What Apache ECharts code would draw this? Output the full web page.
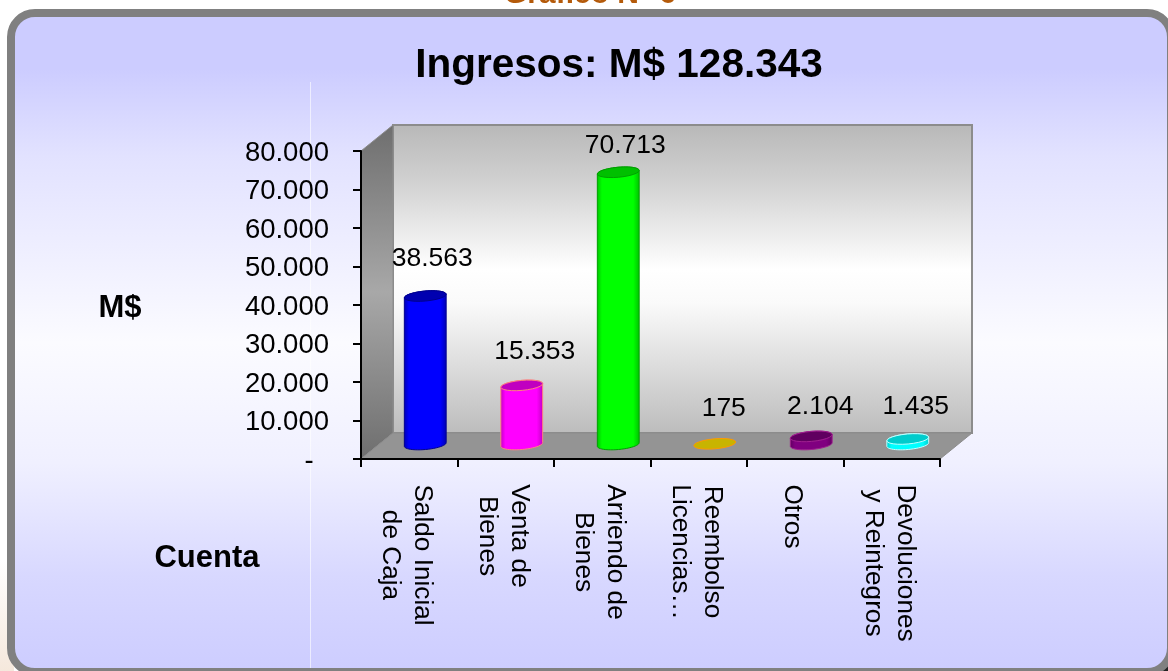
<!DOCTYPE html>
<html>
<head>
<meta charset="utf-8">
<style>html,body{margin:0;padding:0;background:#fff;overflow:hidden}#c{width:1168px;height:671px}</style>
<script src="https://cdn.jsdelivr.net/npm/echarts@6/dist/echarts.min.js"></script>
</head>
<body>
<div id="c"></div>
<script>
const categories = ['Saldo Inicial\nde Caja', 'Venta de\nBienes', 'Arriendo de\nBienes', 'Reembolso\nLicencias…', 'Otros', 'Devoluciones\ny Reintegros'];
const values = [38563, 15353, 70713, 175, 2104, 1435];
const yTicks = { min: 0, max: 80000, interval: 10000 };
const sideColors = ['#0000ff', '#ff00ff', '#00ff00', '#ffb000', '#800080', '#00ffff'];
const edgeColors = ['#000090', '#ff8080', '#00a000', '#ff9900', '#a02090', '#c0ffff'];
const capColors = ['#0000b0', '#c000c0', '#00c000', '#c8b400', '#600060', '#00cccc'];
const labelShiftX = [7, 13, 7, 9, 9, 8];
const labelShiftY = [-37, -34, -27, -35, -30, -32];

const FONT = '"Liberation Sans", Arial, sans-serif';
const DX = 32, DY = 26, BAR_DX = 16, BAR_DY = 14.5, RX = 21, RY = 5, TILT = -0.09;
const LG = echarts.graphic.LinearGradient;

const fmt = v => String(v).replace(/\B(?=(\d{3})+$)/g, '.');

// Rotated category labels: the block starts at the axis side, lines are centred in it.
const measure = document.createElement('canvas').getContext('2d');
measure.font = '26.2px ' + FONT;
const rich = {};
categories.forEach((c, i) => {
  rich['c' + i] = {
    width: Math.ceil(Math.max(...c.split('\n').map(l => measure.measureText(l).width))),
    align: 'center', fontSize: 26.2, lineHeight: 32, fontFamily: FONT, color: '#000'
  };
});

function ell(cx, cy, t0, t1) {
  const pts = [];
  for (let k = 0; k <= 24; k++) {
    const t = t0 + (t1 - t0) * k / 24;
    pts.push([
      cx + RX * Math.cos(t) * Math.cos(TILT) - RY * Math.sin(t) * Math.sin(TILT),
      cy + RX * Math.cos(t) * Math.sin(TILT) + RY * Math.sin(t) * Math.cos(TILT)
    ]);
  }
  return pts;
}

function renderRoom(params, api) {
  const g = params.coordSys;
  const x0 = g.x, y0 = g.y, x1 = g.x + g.width, y1 = g.y + g.height;
  return {
    type: 'group',
    children: [
      { type: 'polygon', shape: { points: [[x0 + DX, y0 - DY], [x1 + DX, y0 - DY], [x1 + DX, y1 - DY], [x0 + DX, y1 - DY]] },
        style: { fill: new LG(0, 0, 0, 1, [{ offset: 0, color: '#b8b8b8' }, { offset: 0.18, color: '#d0d0d0' }, { offset: 0.47, color: '#ffffff' }, { offset: 0.58, color: '#fafafa' }, { offset: 1, color: '#bcbcbc' }]), stroke: '#8c8c8c', lineWidth: 2 } },
      { type: 'polygon', shape: { points: [[x0, y0], [x0 + DX, y0 - DY], [x0 + DX, y1 - DY], [x0, y1]] },
        style: { fill: new LG(0, 0, 0, 1, [{ offset: 0, color: '#6e6e6e' }, { offset: 0.5, color: '#a8a8a8' }, { offset: 1, color: '#6e6e6e' }]), stroke: '#8c8c8c', lineWidth: 1 } },
      { type: 'polygon', shape: { points: [[x0, y1], [x0 + DX, y1 - DY], [x1 + DX, y1 - DY], [x1, y1]] },
        style: { fill: '#949494', stroke: '#8c8c8c', lineWidth: 1 } }
    ]
  };
}

function renderCylinder(params, api) {
  const i = params.dataIndex;
  const v = api.value(1);
  const top = api.coord([api.value(0), v]);
  const base = api.coord([api.value(0), 0]);
  const cx = base[0] + BAR_DX, by = base[1] - BAR_DY, ty = top[1] - BAR_DY;
  const side = sideColors[i], edge = edgeColors[i], cap = capColors[i];
  const children = [];
  if (by - ty > 1) {
    children.push({
      type: 'polygon',
      shape: { points: ell(cx, by, 0, Math.PI).concat(ell(cx, ty, Math.PI, 2 * Math.PI)) },
      style: {
        fill: new LG(0, 0, 1, 0, [{ offset: 0, color: cap }, { offset: 0.12, color: side }, { offset: 0.85, color: side }, { offset: 1, color: cap }]),
        stroke: edge, lineWidth: 1
      }
    });
  }
  children.push({
    type: 'polygon',
    shape: { points: ell(cx, ty, 0, 2 * Math.PI) },
    style: { fill: cap, stroke: edge, lineWidth: 1 }
  });
  children.push({
    type: 'text',
    style: {
      x: cx + labelShiftX[i], y: ty + labelShiftY[i],
      text: fmt(v), fill: '#000', font: '26.5px ' + FONT, align: 'center', verticalAlign: 'middle'
    }
  });
  return { type: 'group', children };
}

const chart = echarts.init(document.getElementById('c'), null, { renderer: 'canvas' });
chart.setOption({
  animation: false,
  backgroundColor: '#ffffff',
  graphic: [
    { type: 'rect', z: -20, shape: { x: 0, y: 560, width: 14, height: 111 },
      style: { fill: new LG(0, 0, 0, 1, [{ offset: 0, color: '#ffffff' }, { offset: 1, color: '#f5e8dc' }]) } },
    { type: 'rect', z: -19, shape: { x: 1160, y: 664, width: 8, height: 7 }, style: { fill: '#222' } },
    { type: 'rect', z: -18, shape: { x: 11, y: 13, width: 1160, height: 659, r: 24 },
      style: {
        fill: new LG(0, 0, 0, 1, [{ offset: 0, color: '#ccccff' }, { offset: 0.09, color: '#ccccff' }, { offset: 0.22, color: '#e2e2ff' }, { offset: 0.5, color: '#fbfbff' }, { offset: 0.68, color: '#f0f0ff' }, { offset: 0.85, color: '#d8d8ff' }, { offset: 1, color: '#ccccff' }]),
        stroke: '#808080', lineWidth: 8
      } },
    { type: 'line', z: -17, shape: { x1: 310.5, y1: 82, x2: 310.5, y2: 668 }, style: { stroke: 'rgba(255,255,255,0.6)', lineWidth: 1 } }
  ],
  title: [
    { text: 'Ingresos: M$ 128.343', left: 619, top: 45, padding: 0, textAlign: 'center', textStyle: { fontFamily: FONT, fontSize: 40.5, fontWeight: 'bold', color: '#000' } },
    { text: 'Gráfico N° 6', left: 590, top: -20, padding: 0, textAlign: 'center', textStyle: { fontFamily: FONT, fontSize: 30, fontWeight: 'bold', color: '#b45a0a' } },
    { text: 'M$', left: 120, top: 293, padding: 0, textAlign: 'center', textStyle: { fontFamily: FONT, fontSize: 31, fontWeight: 'bold', color: '#000' } },
    { text: 'Cuenta', left: 207, top: 543, padding: 0, textAlign: 'center', textStyle: { fontFamily: FONT, fontSize: 31, fontWeight: 'bold', color: '#000' } }
  ],
  grid: { left: 361, right: 228, top: 151, bottom: 212, containLabel: false },
  xAxis: {
    type: 'category', data: categories, z: 5,
    axisLine: { show: true, lineStyle: { color: '#000', width: 2 } },
    axisTick: { show: true, alignWithLabel: false, length: 8, lineStyle: { color: '#000', width: 2 } },
    axisLabel: {
      interval: 0, rotate: -90, margin: 25, padding: [6, 0, 0, 0], fontFamily: FONT, fontSize: 26.2, color: '#000',
      formatter: (val, idx) => val.split('\n').map(l => '{c' + idx + '|' + l + '}').join('\n'),
      rich
    },
    splitLine: { show: false }
  },
  yAxis: {
    type: 'value', min: yTicks.min, max: yTicks.max, interval: yTicks.interval, z: 5,
    axisLine: { show: true, lineStyle: { color: '#000', width: 2 } },
    axisTick: { show: true, length: 8, lineStyle: { color: '#000', width: 2 } },
    axisLabel: { margin: 32, verticalAlign: 'top', lineHeight: 4, fontFamily: FONT, fontSize: 27.5, color: '#000', formatter: v => v === 0 ? '-  ' : fmt(v) },
    splitLine: { show: false }
  },
  series: [
    { type: 'custom', z: 1, silent: true, clip: false, renderItem: renderRoom, data: [[0, 0]], encode: { x: 0, y: 1 } },
    { type: 'custom', z: 3, silent: true, clip: false, renderItem: renderCylinder, data: values.map((v, i) => [i, v]), encode: { x: 0, y: 1 } }
  ]
});
</script>
</body>
</html>
